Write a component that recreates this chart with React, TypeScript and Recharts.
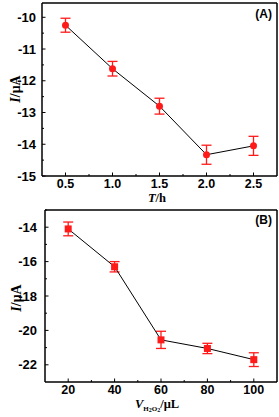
import React from "react";
import {
  ComposedChart, Line, XAxis, YAxis, ErrorBar, ReferenceLine,
} from "recharts";

// Panel A: current vs incubation time
const timeHours = [0.5, 1.0, 1.5, 2.0, 2.5];
const currentA = [-10.25, -11.62, -12.8, -14.33, -14.05];
const errorA = [0.22, 0.23, 0.25, 0.3, 0.3];

// Panel B: current vs H2O2 volume
const volumeUL = [20, 40, 60, 80, 100];
const currentB = [-14.1, -16.3, -20.55, -21.05, -21.7];
const errorB = [0.4, 0.3, 0.5, 0.3, 0.4];

const xTicksA = [0.5, 0.75, 1.0, 1.25, 1.5, 1.75, 2.0, 2.25, 2.5];
const xMajorA = [0.5, 1.0, 1.5, 2.0, 2.5];
const yTicksA = [-15, -14.5, -14, -13.5, -13, -12.5, -12, -11.5, -11, -10.5, -10];
const yMajorA = [-15, -14, -13, -12, -11, -10];

const xTicksB = [20, 30, 40, 50, 60, 70, 80, 90, 100];
const xMajorB = [20, 40, 60, 80, 100];
const yTicksB = [-22, -21, -20, -19, -18, -17, -16, -15, -14, -13];
const yMajorB = [-22, -20, -18, -16, -14];

const dataA = timeHours.map((t, i) => ({ x: t, y: currentA[i], err: errorA[i] }));
const dataB = volumeUL.map((v, i) => ({ x: v, y: currentB[i], err: errorB[i] }));

const FONT = "'Liberation Sans', Arial, sans-serif";
const SERIF = "'Liberation Serif', 'Times New Roman', serif";
const RED = "#ff1a1a";

const fmt = (v: number, dec: number) => (v < 0 ? "-" + Math.abs(v).toFixed(dec) : v.toFixed(dec));

// ticks drawn by hand so they point into the plot (Origin style)
function makeXTick(majors: number[], margin: number, dec: number) {
  return (props: any) => {
    const { x, y, payload } = props;
    const v = payload.value;
    const major = majors.some((m) => Math.abs(m - v) < 1e-6);
    const ay = y - margin;
    return (
      <g>
        <line x1={x} x2={x} y1={ay} y2={ay - (major ? 3.5 : 2)} stroke="#000" strokeWidth={1} />
        {major && (
          <text x={x} y={y} dy="0.7em" textAnchor="middle" fontFamily={FONT} fontWeight="bold" fontSize={12.5} fill="#000">
            {fmt(v, dec)}
          </text>
        )}
      </g>
    );
  };
}

function makeYTick(majors: number[], margin: number) {
  return (props: any) => {
    const { x, y, payload } = props;
    const v = payload.value;
    const major = majors.some((m) => Math.abs(m - v) < 1e-6);
    const ax = x + margin;
    return (
      <g>
        <line x1={ax} x2={ax + (major ? 3.5 : 2)} y1={y} y2={y} stroke="#000" strokeWidth={1} />
        {major && (
          <text x={x} y={y} dy="0.35em" textAnchor="end" fontFamily={FONT} fontWeight="bold" fontSize={13} fill="#000">
            {fmt(v, 0)}
          </text>
        )}
      </g>
    );
  };
}

const SquareDot = (props: any) => {
  const { cx, cy, index } = props;
  return <rect key={"sq" + index} x={cx - 3.5} y={cy - 3.5} width={7} height={7} fill={RED} />;
};

export default function App() {
  return (
    <div style={{ position: "absolute", left: 0, top: 0, width: 279, height: 417, background: "#fff" }}>
      {/* Panel A */}
      <div style={{ position: "absolute", left: 0, top: 0 }}>
        <ComposedChart width={279} height={205} data={dataA} margin={{ top: 3, right: 2, bottom: 0, left: 0 }}>
          <XAxis
            dataKey="x" type="number" domain={[0.25, 2.75]} ticks={xTicksA}
            tickSize={0} tickMargin={3} height={29}
            axisLine={{ stroke: "#000", strokeWidth: 1.5 }}
            tick={makeXTick(xMajorA, 3, 1)} interval={0}
          />
          <YAxis
            type="number" domain={[-15, -9.55]} ticks={yTicksA} width={42}
            tickSize={0} tickMargin={6}
            axisLine={{ stroke: "#000", strokeWidth: 1.5 }}
            tick={makeYTick(yMajorA, 6)} interval={0}
          />
          <ReferenceLine y={-9.55} stroke="#000" strokeWidth={1.5} />
          <ReferenceLine x={2.75} stroke="#000" strokeWidth={1.5} />
          <Line
            dataKey="y" stroke="#000" strokeWidth={1} isAnimationActive={false}
            dot={{ r: 3.5, fill: RED, stroke: RED, strokeWidth: 0 }} activeDot={false}
          >
            <ErrorBar dataKey="err" direction="y" width={5} stroke={RED} strokeWidth={1.3} />
          </Line>
        </ComposedChart>
        <svg style={{ position: "absolute", left: 0, top: 0, pointerEvents: "none" }} width={279} height={205}>
          <text x={272} y={14} dy="0.35em" textAnchor="end" fontFamily={FONT} fontWeight="bold" fontSize={12}>(A)</text>
          <text
            transform="translate(15,89) rotate(-90)" textAnchor="middle" dy="0.35em"
            fontFamily={SERIF} fontWeight="bold" fontSize={14}
          >
            <tspan fontStyle="italic">I</tspan>/μA
          </text>
          <text x={157} y={202} textAnchor="middle" fontFamily={SERIF} fontWeight="bold" fontSize={12.5}>
            <tspan fontStyle="italic">T</tspan>/h
          </text>
        </svg>
      </div>

      {/* Panel B */}
      <div style={{ position: "absolute", left: 0, top: 205 }}>
        <ComposedChart width={279} height={212} data={dataB} margin={{ top: 5, right: 2, bottom: 0, left: 0 }}>
          <XAxis
            dataKey="x" type="number" domain={[10, 110]} ticks={xTicksB}
            tickSize={0} tickMargin={3} height={35}
            axisLine={{ stroke: "#000", strokeWidth: 1.5 }}
            tick={makeXTick(xMajorB, 3, 0)} interval={0}
          />
          <YAxis
            type="number" domain={[-23, -13]} ticks={yTicksB} width={45}
            tickSize={0} tickMargin={8}
            axisLine={{ stroke: "#000", strokeWidth: 1.5 }}
            tick={makeYTick(yMajorB, 8)} interval={0}
          />
          <ReferenceLine y={-13} stroke="#000" strokeWidth={1.5} />
          <ReferenceLine x={110} stroke="#000" strokeWidth={1.5} />
          <Line
            dataKey="y" stroke="#000" strokeWidth={1} isAnimationActive={false}
            dot={SquareDot} activeDot={false}
          >
            <ErrorBar dataKey="err" direction="y" width={5} stroke={RED} strokeWidth={1.3} />
          </Line>
        </ComposedChart>
        <svg style={{ position: "absolute", left: 0, top: 0, pointerEvents: "none" }} width={279} height={212}>
          <text x={272} y={15} dy="0.35em" textAnchor="end" fontFamily={FONT} fontWeight="bold" fontSize={12}>(B)</text>
          <text
            transform="translate(16,93) rotate(-90)" textAnchor="middle" dy="0.35em"
            fontFamily={SERIF} fontWeight="bold" fontSize={14}
          >
            <tspan fontStyle="italic">I</tspan>/μA
          </text>
          <text x={157} y={202.5} textAnchor="middle" fontFamily={SERIF} fontWeight="bold" fontSize={12.5}>
            <tspan fontStyle="italic">V</tspan>
            <tspan fontSize={7} dy="3">H</tspan>
            <tspan fontSize={6} dy="1">2</tspan>
            <tspan fontSize={7} dy="-1">O</tspan>
            <tspan fontSize={6} dy="1">2</tspan>
            <tspan dy="-4">/μL</tspan>
          </text>
        </svg>
      </div>
    </div>
  );
}
